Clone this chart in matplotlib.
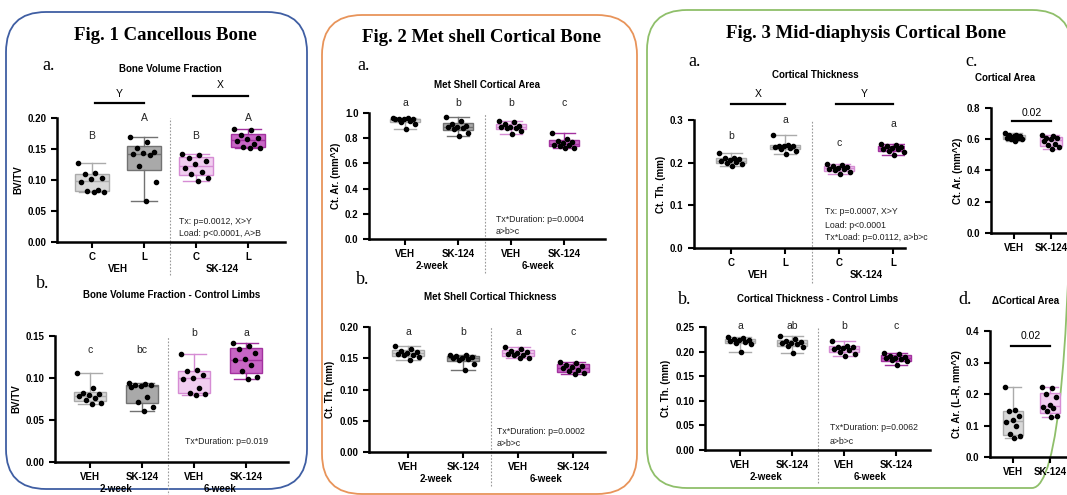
import numpy as np
import matplotlib.pyplot as plt
from matplotlib.patches import FancyBboxPatch

W, H = 1067, 495
plt.rcParams['font.family'] = ['Liberation Sans', 'DejaVu Sans']

# box colours (face, edge)
LG = ('#d8d8d8', '#ababab')
DG = ('#a9a9a9', '#727272')
LP = ('#f1cef0', '#d68cd4')
MG = ('#c866c5', '#a3329f')

# ---- Fig 1a: Bone Volume Fraction (BV/TV)
f1a_labels = ['C', 'L', 'C', 'L']
f1a_groups = ['VEH', 'SK-124']
f1a_letters = ['B', 'A', 'B', 'A']
f1a_veh_c = [0.080, 0.081, 0.083, 0.084, 0.097, 0.101, 0.104, 0.109, 0.111, 0.128]
f1a_veh_l = [0.066, 0.097, 0.122, 0.140, 0.142, 0.143, 0.145, 0.152, 0.161, 0.170]
f1a_sk_c = [0.099, 0.103, 0.109, 0.113, 0.120, 0.126, 0.131, 0.136, 0.140, 0.142]
f1a_sk_l = [0.151, 0.152, 0.154, 0.158, 0.163, 0.166, 0.168, 0.172, 0.181, 0.182]

# ---- Fig 1b: Bone Volume Fraction - Control Limbs
dur_labels = ['VEH', 'SK-124', 'VEH', 'SK-124']
dur_groups = ['2-week', '6-week']
f1b_letters = ['c', 'bc', 'b', 'a']
f1b_2wk_veh = [0.069, 0.070, 0.074, 0.076, 0.078, 0.080, 0.081, 0.082, 0.088, 0.106]
f1b_2wk_sk = [0.061, 0.065, 0.072, 0.077, 0.089, 0.091, 0.092, 0.092, 0.093, 0.094]
f1b_6wk_veh = [0.080, 0.081, 0.082, 0.088, 0.099, 0.100, 0.103, 0.108, 0.110, 0.128]
f1b_6wk_sk = [0.099, 0.101, 0.108, 0.116, 0.121, 0.123, 0.130, 0.135, 0.138, 0.142]

# ---- Fig 2a: Met Shell Cortical Area
f2a_letters = ['a', 'b', 'b', 'c']
f2a_2wk_veh = [0.87, 0.91, 0.93, 0.94, 0.95, 0.95, 0.95, 0.955, 0.96, 0.96]
f2a_2wk_sk = [0.82, 0.84, 0.87, 0.88, 0.89, 0.89, 0.90, 0.91, 0.94, 0.97]
f2a_6wk_veh = [0.83, 0.86, 0.88, 0.88, 0.89, 0.89, 0.90, 0.91, 0.93, 0.94]
f2a_6wk_sk = [0.72, 0.72, 0.74, 0.75, 0.75, 0.76, 0.77, 0.78, 0.79, 0.84]

# ---- Fig 2b: Met Shell Cortical Thickness
f2b_letters = ['a', 'b', 'a', 'c']
f2b_2wk_veh = [0.148, 0.152, 0.155, 0.156, 0.157, 0.159, 0.160, 0.162, 0.165, 0.170]
f2b_2wk_sk = [0.132, 0.141, 0.148, 0.149, 0.150, 0.151, 0.152, 0.153, 0.155, 0.156]
f2b_6wk_veh = [0.150, 0.151, 0.155, 0.156, 0.157, 0.159, 0.160, 0.162, 0.165, 0.168]
f2b_6wk_sk = [0.125, 0.126, 0.129, 0.131, 0.134, 0.136, 0.138, 0.140, 0.142, 0.144]

# ---- Fig 3a: Cortical Thickness
f3a_letters = ['b', 'a', 'c', 'a']
f3a_veh_c = [0.192, 0.196, 0.200, 0.202, 0.204, 0.206, 0.208, 0.210, 0.212, 0.222]
f3a_veh_l = [0.220, 0.228, 0.232, 0.235, 0.236, 0.238, 0.238, 0.240, 0.242, 0.265]
f3a_sk_c = [0.173, 0.178, 0.182, 0.184, 0.186, 0.188, 0.190, 0.192, 0.194, 0.197]
f3a_sk_l = [0.219, 0.224, 0.228, 0.231, 0.233, 0.235, 0.237, 0.239, 0.241, 0.243]

# ---- Fig 3b: Cortical Thickness - Control Limbs
f3b_letters = ['a', 'ab', 'b', 'c']
f3b_2wk_veh = [0.200, 0.215, 0.218, 0.220, 0.222, 0.223, 0.224, 0.226, 0.228, 0.230]
f3b_2wk_sk = [0.198, 0.210, 0.212, 0.215, 0.217, 0.218, 0.220, 0.222, 0.226, 0.232]
f3b_6wk_veh = [0.192, 0.196, 0.199, 0.203, 0.205, 0.207, 0.209, 0.210, 0.212, 0.222]
f3b_6wk_sk = [0.173, 0.180, 0.182, 0.184, 0.186, 0.188, 0.190, 0.192, 0.195, 0.197]

# ---- Fig 3c / 3d: Cortical Area, delta Cortical Area
two_labels = ['VEH', 'SK-124']
f3c_veh = [0.59, 0.60, 0.60, 0.61, 0.61, 0.62, 0.62, 0.63, 0.63, 0.64]
f3c_sk = [0.54, 0.55, 0.56, 0.57, 0.59, 0.60, 0.61, 0.61, 0.62, 0.63]
f3d_veh = [0.060, 0.068, 0.072, 0.100, 0.110, 0.118, 0.130, 0.145, 0.150, 0.222]
f3d_sk = [0.128, 0.130, 0.145, 0.155, 0.160, 0.165, 0.190, 0.200, 0.218, 0.222]

fig = plt.figure(figsize=(W / 100, H / 100), dpi=100)
bg = fig.add_axes([0, 0, 1, 1])
bg.set_xlim(0, W)
bg.set_ylim(H, 0)
bg.axis('off')


def frame(x0, y0, x1, y1, color):
    bg.add_patch(FancyBboxPatch((x0, y0), x1 - x0, y1 - y0,
                                boxstyle='round,pad=0,rounding_size=40',
                                fc='none', ec=color, lw=1.3))


def txt(x, y, s, **kw):
    bg.text(x, y, s, va='center', **kw)


def stats(v):
    q1, med, q3 = np.percentile(v, [25, 50, 75], method='weibull')
    return dict(med=med, q1=q1, q3=q3, whislo=min(v), whishi=max(v), fliers=[])


def panel(px0, py0, px1, py1, ticks_px, ymax, ystep, fmt, ylabel):
    ax = fig.add_axes([px0 / W, 1 - py1 / H, (px1 - px0) / W, (py1 - py0) / H])
    ax.patch.set_alpha(0)
    dx = ticks_px[1] - ticks_px[0]
    ax.set_xlim((px0 - ticks_px[0]) / dx, (px1 - ticks_px[0]) / dx)
    ax.set_ylim(0, ymax)
    yt = np.arange(0, ymax + ystep / 2, ystep)
    ax.set_yticks(yt, [fmt.format(v) for v in yt], fontweight='bold', fontsize=7)
    for s in ['top', 'right']:
        ax.spines[s].set_visible(False)
    for s in ['left', 'bottom']:
        ax.spines[s].set_linewidth(1.8)
    ax.tick_params(width=1.5, length=4)
    ax.set_ylabel(ylabel, fontweight='bold', fontsize=7, labelpad=3)
    return ax


def boxes(ax, data, colors, width, labels, groups=None, letters=None, lpos=None):
    pos = np.arange(len(data))
    ax.bxp([stats(v) for v in data], positions=pos, widths=width,
           patch_artist=True, showfliers=False, manage_ticks=False,
           capwidths=width * 0.75)
    arts = ax.patches[-len(data):]
    for i, (fc, ec) in enumerate(colors):
        arts[i].set(facecolor=fc, edgecolor=ec, lw=1)
    # colour whiskers / caps / medians by nearest box
    for ln in ax.lines:
        xs = np.asarray(ln.get_xdata(), float)
        i = int(round(xs.mean()))
        ln.set(color=colors[i][1], lw=1)
    for i, v in enumerate(data):
        vals = np.sort(v)[::-1]
        off = ((np.arange(len(vals)) * 0.618) % 1 - 0.5) * width * 0.8
        ax.plot(pos[i] + off, vals, 'o', color='black', ms=3, zorder=5, clip_on=False)
    ax.set_xticks(pos, labels, fontweight='bold', fontsize=7)
    if groups is not None:
        for j, g in enumerate(groups):
            ax.annotate(g, (2 * j + 0.5, 0), xycoords=('data', 'axes fraction'),
                        xytext=(0, -19.5), textcoords='offset points',
                        ha='center', va='center', fontweight='bold', fontsize=7)
        ax.plot([1.5, 1.5], [-0.27, 1.0], transform=ax.get_xaxis_transform(),
                ls=(0, (1.5, 1.5)), color='#9a9a9a', lw=0.8, clip_on=False)
    if letters is not None:
        for i, (s, y) in enumerate(zip(letters, lpos)):
            ax.text(pos[i], y, s, ha='center', va='center', fontsize=7.5, color='#222222')


def sigbar(ax, x0, x1, y, ytxt, s):
    ax.plot([x0, x1], [y, y], color='black', lw=1.6, clip_on=False)
    ax.text((x0 + x1) / 2, ytxt, s, ha='center', va='center', fontsize=7.5)


# frames
frame(6, 12, 307, 489, '#3f5ea3')
frame(322, 15, 637, 494, '#e8945a')
frame(647, 10, 1072, 488, '#8fbf6a')

serif = ['Liberation Serif', 'DejaVu Serif']
txt(165, 35, 'Fig. 1 Cancellous Bone', ha='center', family=serif, fontweight='bold', fontsize=13.5)
txt(482, 37, 'Fig. 2 Met shell Cortical Bone', ha='center', family=serif, fontweight='bold', fontsize=13.5)
txt(866, 33, 'Fig. 3 Mid-diaphysis Cortical Bone', ha='center', family=serif, fontweight='bold', fontsize=13.5)
for x, y, s in [(42, 65, 'a.'), (36, 283, 'b.'), (357, 65, 'a.'), (356, 279, 'b.'),
                (688, 62, 'a.'), (678, 300, 'b.'), (965, 62, 'c.'), (958, 300, 'd.')]:
    txt(x, y, s, ha='left', family=serif, fontsize=13)

sub = dict(ha='center', fontweight='bold', fontsize=7)
txt(170, 69, 'Bone Volume Fraction', **sub)
txt(172, 295, 'Bone Volume Fraction - Control Limbs', **sub)
txt(487, 85, 'Met Shell Cortical Area', **sub)
txt(490, 297, 'Met Shell Cortical Thickness', **sub)
txt(815, 75, 'Cortical Thickness', **sub)
txt(818, 299, 'Cortical Thickness - Control Limbs', **sub)
txt(975, 78, 'Cortical Area', ha='left', fontweight='bold', fontsize=7)
txt(992, 301, '\u0394Cortical Area', ha='left', fontweight='bold', fontsize=7)

note = dict(ha='left', fontsize=6.3, color='#222222')
txt(179, 222, 'Tx: p=0.0012, X>Y', **note)
txt(179, 233, 'Load: p<0.0001, A>B', **note)
txt(185, 441, 'Tx*Duration: p=0.019', **note)
txt(496, 219, 'Tx*Duration: p=0.0004', **note)
txt(496, 231, 'a>b>c', **note)
txt(497, 431, 'Tx*Duration: p=0.0002', **note)
txt(497, 443, 'a>b>c', **note)
txt(825, 212, 'Tx: p=0.0007, X>Y', **note)
txt(825, 225, 'Load: p<0.0001', **note)
txt(825, 238, 'Tx*Load: p=0.0112, a>b>c', **note)
txt(830, 428, 'Tx*Duration: p=0.0062', **note)
txt(830, 441, 'a>b>c', **note)

# Fig 1a
ax = panel(57, 118, 285, 242, [92, 144, 197, 249], 0.20, 0.05, '{:.2f}', 'BV/TV')
boxes(ax, [f1a_veh_c, f1a_veh_l, f1a_sk_c, f1a_sk_l], [LG, DG, LP, MG], 0.65,
      f1a_labels, f1a_groups, f1a_letters, [0.171, 0.200, 0.171, 0.200])
sigbar(ax, 0.05, 1.0, 0.224, 0.239, 'Y')
sigbar(ax, 1.95, 3.0, 0.235, 0.253, 'X')

# Fig 1b
ax = panel(55, 336, 288, 462, [90, 142, 197, 250], 0.15, 0.05, '{:.2f}', 'BV/TV')
boxes(ax, [f1b_2wk_veh, f1b_2wk_sk, f1b_6wk_veh, f1b_6wk_sk], [LG, DG, LP, MG], 0.62,
      dur_labels, dur_groups, f1b_letters, [0.133, 0.133, 0.154, 0.154])

# Fig 2a
ax = panel(369, 113, 605, 239, [405, 458, 511, 565], 1.0, 0.2, '{:.1f}', 'Ct. Ar. (mm^2)')
boxes(ax, [f2a_2wk_veh, f2a_2wk_sk, f2a_6wk_veh, f2a_6wk_sk], [LG, DG, LP, MG], 0.55,
      dur_labels, dur_groups, f2a_letters, [1.08, 1.08, 1.08, 1.08])

# Fig 2b
ax = panel(369, 327, 605, 452, [408, 463, 513, 568], 0.20, 0.05, '{:.2f}', 'Ct. Th. (mm)')
boxes(ax, [f2b_2wk_veh, f2b_2wk_sk, f2b_6wk_veh, f2b_6wk_sk], [LG, DG, LP, MG], 0.58,
      dur_labels, dur_groups, f2b_letters, [0.192, 0.192, 0.192, 0.192])

# Fig 3a
ax = panel(694, 120, 905, 248, [731, 785, 838, 893], 0.3, 0.1, '{:.1f}', 'Ct. Th. (mm)')
boxes(ax, [f3a_veh_c, f3a_veh_l, f3a_sk_c, f3a_sk_l], [LG, LG, LP, MG], 0.55,
      f1a_labels, f1a_groups, f3a_letters, [0.262, 0.300, 0.246, 0.290])
sigbar(ax, 0.0, 1.0, 0.338, 0.361, 'X')
sigbar(ax, 1.95, 3.0, 0.338, 0.361, 'Y')

# Fig 3b
ax = panel(705, 327, 930, 450, [740, 792, 842, 893], 0.25, 0.05, '{:.2f}', 'Ct. Th. (mm)')
boxes(ax, [f3b_2wk_veh, f3b_2wk_sk, f3b_6wk_veh, f3b_6wk_sk], [LG, LG, LP, MG], 0.58,
      dur_labels, dur_groups, f3b_letters, [0.252, 0.252, 0.252, 0.252])

# Fig 3c
ax = panel(991, 108, 1080, 233, [1014, 1051], 0.8, 0.2, '{:.1f}', 'Ct. Ar. (mm^2)')
boxes(ax, [f3c_veh, f3c_sk], [LG, LP], 0.6, two_labels)
sigbar(ax, -0.05, 1.0, 0.717, 0.768, '0.02')

# Fig 3d
ax = panel(990, 331, 1080, 457, [1013, 1050], 0.4, 0.1, '{:.1f}', 'Ct. Ar. (L-R, mm^2)')
boxes(ax, [f3d_veh, f3d_sk], [LG, LP], 0.55, two_labels)
sigbar(ax, -0.05, 1.0, 0.352, 0.384, '0.02')

fig.savefig('out.png', dpi=100)
